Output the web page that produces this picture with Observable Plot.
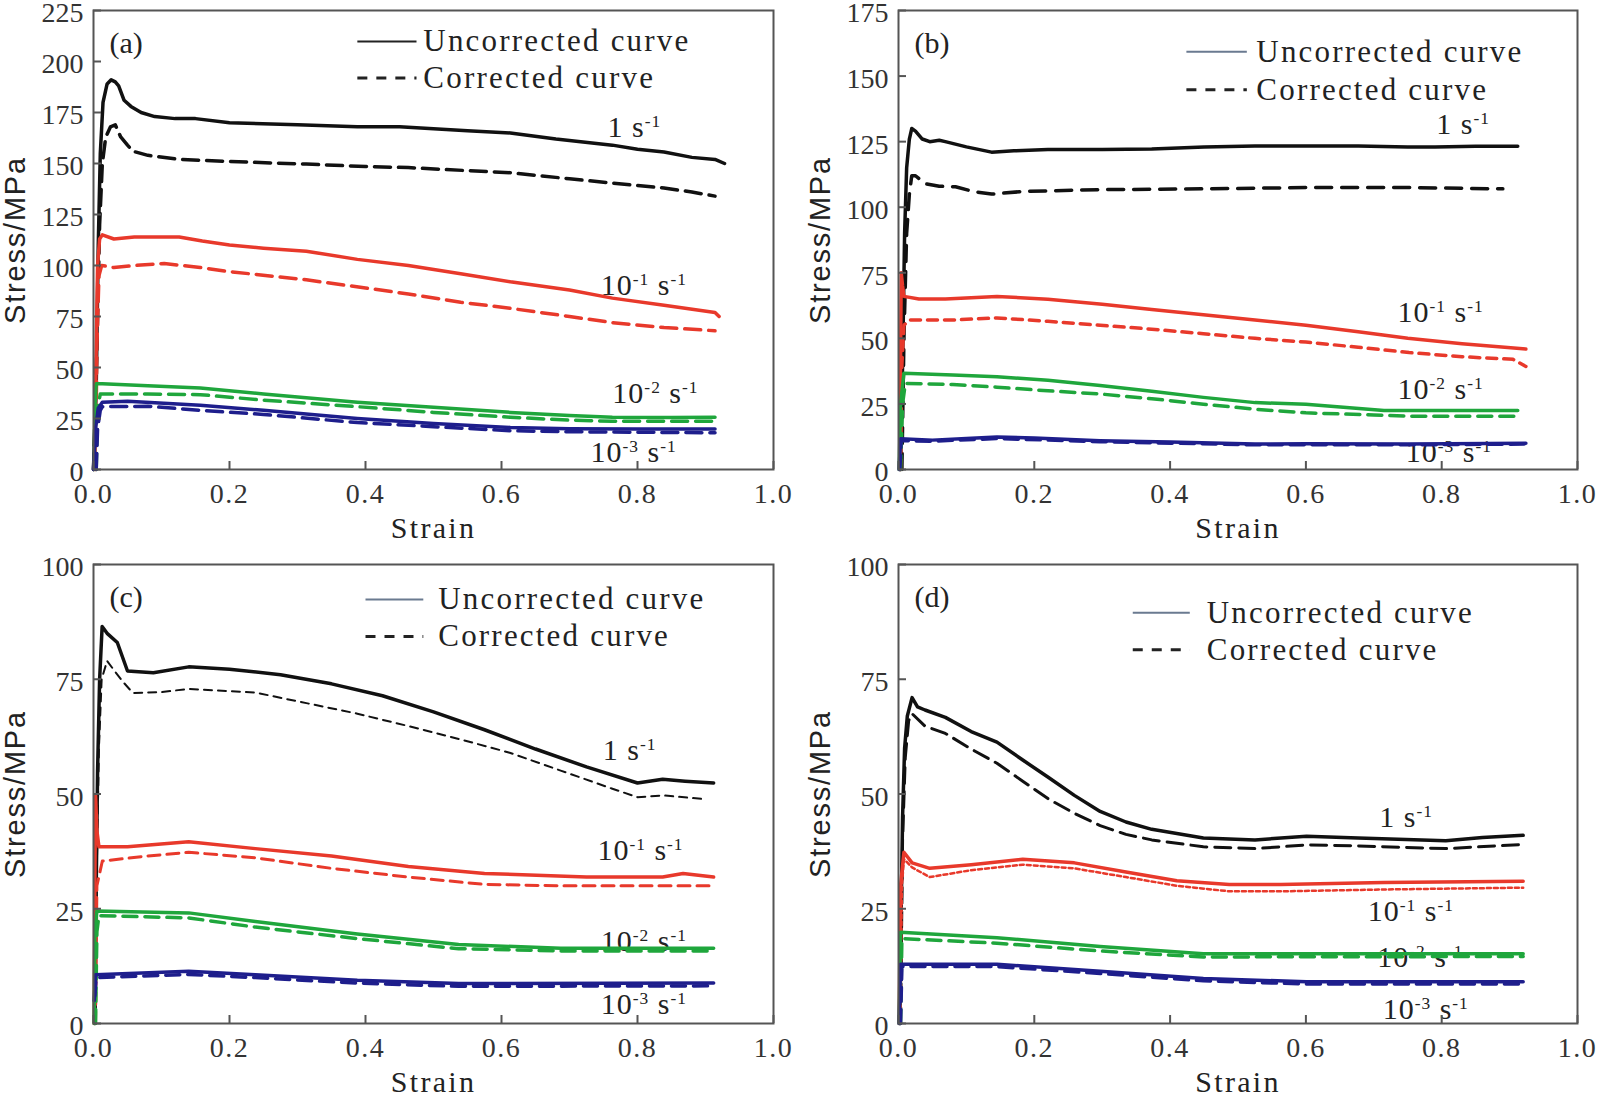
<!DOCTYPE html>
<html><head><meta charset="utf-8">
<script src="https://cdn.jsdelivr.net/npm/d3@7"></script>
<script src="https://cdn.jsdelivr.net/npm/@observablehq/plot@0.6"></script>
<style>
body{margin:0;background:#fff;}
#root{position:relative;width:1599px;height:1094px;overflow:hidden;background:#fff;}
.panel{position:absolute;}
</style></head>
<body><div id="root"></div>
<script>
// ---------- data (strain, stress MPa) ----------
const xTicks = [0, 0.2, 0.4, 0.6, 0.8, 1.0];
const yTicksA = [0, 25, 50, 75, 100, 125, 150, 175, 200, 225];
const yTicksB = [0, 25, 50, 75, 100, 125, 150, 175];
const yTicksC = [0, 25, 50, 75, 100];
const yTicksD = [0, 25, 50, 75, 100];
const rateLabels = ["1 s^-1", "10^-1 s^-1", "10^-2 s^-1", "10^-3 s^-1"];
const legendLabels = ["Uncorrected curve", "Corrected curve"];
const panelTags = ["(a)", "(b)", "(c)", "(d)"];

// panel (a)
const a1u = [[0,0],[0.004,40],[0.007,110],[0.01,155],[0.014,180],[0.02,189],[0.026,191],[0.032,190],[0.037,188],[0.045,181],[0.055,178],[0.07,175],[0.09,173],[0.12,172],[0.15,172],[0.2,170],[0.3,169],[0.388,168],[0.45,168],[0.5,167],[0.55,166],[0.613,165],[0.68,162],[0.763,159],[0.8,157],[0.839,155.6],[0.88,153],[0.914,152],[0.928,150]];
const a1c = [[0,0],[0.005,60],[0.009,120],[0.013,150],[0.018,163],[0.025,168],[0.032,169],[0.04,163],[0.05,159],[0.058,156],[0.08,154],[0.126,152],[0.2,151],[0.313,149.7],[0.4,148.5],[0.463,148],[0.55,146.5],[0.613,145.5],[0.7,142.5],[0.763,140.4],[0.839,138],[0.88,136],[0.914,134]];
const a2u = [[0.002,0],[0.004,60],[0.006,100],[0.009,113],[0.013,115],[0.03,113],[0.06,114],[0.1,114],[0.126,114],[0.16,112],[0.2,110],[0.25,108.5],[0.313,107],[0.388,103],[0.463,100],[0.54,96],[0.613,92],[0.7,88],[0.763,84],[0.839,80.5],[0.914,77],[0.92,75]];
const a2c = [[0.003,0],[0.005,60],[0.008,95],[0.012,100],[0.03,99],[0.06,100],[0.104,101],[0.157,99],[0.2,97],[0.313,93],[0.4,89],[0.463,86],[0.54,82],[0.613,79],[0.7,75],[0.763,72],[0.839,69.6],[0.914,68]];
const a3u = [[0.001,0],[0.002,30],[0.004,42],[0.013,42],[0.08,41],[0.157,40],[0.25,37],[0.388,33],[0.5,30.5],[0.613,28],[0.7,26.5],[0.763,25.6],[0.85,25.5],[0.914,25.6]];
const a3c = [[0.004,0],[0.006,30],[0.01,37],[0.08,37],[0.157,36.7],[0.25,34],[0.388,30.8],[0.5,28],[0.613,25.6],[0.7,24.2],[0.763,23.6],[0.914,23.6]];
const a4u = [[0,0],[0.003,20],[0.007,30],[0.013,33],[0.05,33.5],[0.157,31.5],[0.25,29],[0.388,25],[0.5,22.5],[0.613,20.6],[0.7,20],[0.8,19.8],[0.914,19.8]];
const a4c = [[0.004,0],[0.006,20],[0.01,29],[0.013,30.8],[0.08,31],[0.157,29],[0.25,27],[0.388,23],[0.5,21],[0.613,19],[0.7,18.5],[0.914,18]];

// panel (b)
const b1u = [[0.003,0],[0.006,40],[0.009,90],[0.012,115],[0.016,126],[0.0195,130],[0.025,129],[0.035,126],[0.046,125],[0.06,125.5],[0.069,125],[0.1,123],[0.137,121],[0.17,121.5],[0.22,122],[0.3,122],[0.373,122.2],[0.45,123],[0.525,123.3],[0.6,123.3],[0.677,123.3],[0.75,123],[0.79,123],[0.85,123.2],[0.912,123.2]];
const b1c = [[0.005,0],[0.008,50],[0.012,90],[0.016,105],[0.0195,112],[0.025,112],[0.039,109],[0.06,108],[0.084,107.8],[0.11,106],[0.137,105],[0.183,106],[0.297,106.7],[0.449,107],[0.6,107.5],[0.752,107.5],[0.89,107]];
const b2u = [[0.002,0],[0.003,40],[0.004,75],[0.006,70],[0.008,66],[0.03,65],[0.069,65],[0.145,66],[0.22,64.9],[0.3,63],[0.373,61],[0.449,59],[0.525,57],[0.6,55],[0.677,52.5],[0.75,50],[0.83,47.9],[0.924,45.9]];
const b2c = [[0.003,0],[0.005,40],[0.008,55],[0.016,57],[0.08,57],[0.145,57.8],[0.22,56.5],[0.297,55],[0.373,53.5],[0.449,51.8],[0.525,50],[0.6,48.6],[0.677,46.6],[0.752,44.6],[0.83,43],[0.905,42],[0.924,39.3]];
const b3u = [[0.001,0],[0.003,25],[0.008,36.7],[0.08,36],[0.145,35.4],[0.22,34],[0.297,32],[0.373,29.8],[0.449,27.5],[0.525,25.5],[0.6,24.9],[0.715,22.5],[0.8,22.5],[0.912,22.5]];
const b3c = [[0.003,0],[0.006,25],[0.01,32.8],[0.08,32.4],[0.145,31.4],[0.22,30],[0.297,28.8],[0.373,27],[0.449,24.9],[0.525,23],[0.6,21.6],[0.7,20.8],[0.752,20.3],[0.912,20.3]];
const b4u = [[0.001,0],[0.003,11.7],[0.05,11.2],[0.1,11.8],[0.145,12.4],[0.2,12],[0.297,11],[0.4,10.5],[0.525,9.7],[0.6,9.8],[0.75,9.7],[0.924,10]];
const b4c = [[0.002,0],[0.004,11],[0.05,10.8],[0.145,11.8],[0.297,10.6],[0.525,9.4],[0.75,9.4],[0.924,9.7]];

// panel (c)
const c1u = [[0.002,0],[0.004,30],[0.006,55],[0.009,75],[0.0127,86.5],[0.02,85],[0.035,83],[0.05,76.8],[0.088,76.4],[0.14,77.7],[0.2,77.2],[0.275,76],[0.35,74],[0.425,71.4],[0.5,67.9],[0.575,64],[0.65,59.8],[0.725,55.9],[0.8,52.4],[0.837,53.2],[0.87,52.8],[0.912,52.4]];
const c1c = [[0.003,0],[0.005,35],[0.008,60],[0.012,75],[0.02,79],[0.03,77],[0.043,74.5],[0.058,72],[0.1,72.2],[0.14,72.9],[0.238,72.1],[0.313,69.8],[0.388,67.5],[0.463,64.8],[0.537,62],[0.612,59],[0.687,55.1],[0.762,51.2],[0.8,49.3],[0.837,49.7],[0.897,48.9]];
const c2u = [[0.001,0],[0.002,30],[0.003,49.7],[0.005,42],[0.008,38.5],[0.05,38.5],[0.14,39.6],[0.238,38.1],[0.35,36.5],[0.463,34.2],[0.575,32.7],[0.725,31.9],[0.837,31.9],[0.867,32.7],[0.912,31.9]];
const c2c = [[0.003,0],[0.005,30],[0.013,35.4],[0.08,36.5],[0.14,37.3],[0.238,36.1],[0.35,33.8],[0.463,31.9],[0.575,30.3],[0.687,30],[0.912,30]];
const c3u = [[0.001,0],[0.002,20],[0.005,24.5],[0.14,24.1],[0.238,22.2],[0.388,19.5],[0.537,17.2],[0.687,16.4],[0.912,16.4]];
const c3c = [[0.003,0],[0.005,20],[0.008,23.5],[0.14,23],[0.238,21],[0.388,18.5],[0.537,16.3],[0.687,15.8],[0.912,15.8]];
const c4u = [[0.001,5],[0.003,10.6],[0.14,11.4],[0.238,10.6],[0.388,9.4],[0.537,8.7],[0.912,8.8]];
const c4c = [[0.002,6],[0.004,10],[0.14,10.7],[0.238,10],[0.388,8.8],[0.537,8.1],[0.912,8.2]];

// panel (d)
const d1u = [[0.002,0],[0.004,25],[0.006,45],[0.009,60],[0.013,67],[0.02,71],[0.028,69],[0.039,68.3],[0.069,66.7],[0.107,63.6],[0.145,61.3],[0.183,57.4],[0.221,53.6],[0.259,49.7],[0.297,46.2],[0.335,43.9],[0.373,42.3],[0.449,40.4],[0.525,40],[0.601,40.8],[0.677,40.4],[0.806,39.8],[0.86,40.5],[0.92,41]];
const d1c = [[0.003,0],[0.006,40],[0.01,58],[0.015,66],[0.02,67.5],[0.039,64.8],[0.069,63.2],[0.107,59.8],[0.145,56.7],[0.183,52.8],[0.221,48.9],[0.259,45.8],[0.297,43.1],[0.335,41.2],[0.373,40],[0.449,38.5],[0.525,38.1],[0.601,38.9],[0.677,38.7],[0.806,38.1],[0.92,39]];
const d2u = [[0.001,0],[0.003,30],[0.008,37.3],[0.02,35],[0.046,33.8],[0.107,34.6],[0.183,35.8],[0.259,35],[0.335,33],[0.41,31.1],[0.487,30.3],[0.563,30.3],[0.715,30.7],[0.92,31]];
const d2c = [[0.003,0],[0.005,30],[0.008,35.8],[0.02,34],[0.046,31.9],[0.107,33.4],[0.183,34.6],[0.259,33.8],[0.335,31.9],[0.41,30],[0.487,28.8],[0.563,28.8],[0.715,29.2],[0.92,29.6]];
const d3u = [[0.001,0],[0.003,19.9],[0.145,18.7],[0.297,16.8],[0.449,15.2],[0.92,15.2]];
const d3c = [[0.003,0],[0.005,18.5],[0.145,17.5],[0.297,15.8],[0.449,14.5],[0.92,14.6]];
const d4u = [[0.001,0],[0.003,12.9],[0.145,12.9],[0.297,11.4],[0.449,9.8],[0.601,9.1],[0.92,9.1]];
const d4c = [[0.003,0],[0.005,12.4],[0.145,12.4],[0.297,10.9],[0.449,9.3],[0.601,8.6],[0.92,8.6]];

// ---------- styles / layout ----------
const rateColors = ["#111111", "#e8392b", "#1fa63c", "#1e1e8c"];
const SERIF = "'Liberation Serif','Times New Roman',serif";
const SANS = "'Liberation Sans',Arial,sans-serif";

const panels = [
  {tag: panelTags[0], left: 0, top: 0, width: 795, yMax: 225, yTicks: yTicksA,
   curves: [[a1u,a1c],[a2u,a2c],[a3u,a3c],[a4u,a4c]],
   dashes: ["16,8","16,8","16,8","16,8"], dashW: [3.5,3.5,3.5,3.5],
   labelPos: [[0.756,167.6],[0.746,90.2],[0.763,37.3],[0.731,8.3]],
   legend: {x1: 0.388, x2: 0.475, xt: 0.485, y: [209.8, 191.9], solid: "#222"}},
  {tag: panelTags[1], left: 805, top: 0, width: 794, yMax: 175, yTicks: yTicksB,
   curves: [[b1u,b1c],[b2u,b2c],[b3u,b3c],[b4u,b4c]],
   dashes: ["16,10","10,7","14,8","14,8"], dashW: [3.5,3.5,3.5,3.5],
   labelPos: [[0.792,131.4],[0.735,60],[0.735,30.6],[0.747,6.5]],
   legend: {x1: 0.424, x2: 0.513, xt: 0.527, y: [159.3, 144.8], solid: "#6a7a90"}},
  {tag: panelTags[2], left: 0, top: 554, width: 795, yMax: 100, yTicks: yTicksC,
   curves: [[c1u,c1c],[c2u,c2c],[c3u,c3c],[c4u,c4c]],
   dashes: ["8,6","12,7","14,8","14,8"], dashW: [2,3,3.5,3.5],
   labelPos: [[0.749,59.4],[0.741,37.8],[0.746,17.9],[0.746,4.1]],
   legend: {x1: 0.4, x2: 0.485, xt: 0.507, y: [92.4, 84.3], solid: "#6a7a90"}},
  {tag: panelTags[3], left: 805, top: 554, width: 794, yMax: 100, yTicks: yTicksD,
   curves: [[d1u,d1c],[d2u,d2c],[d3u,d3c],[d4u,d4c]],
   dashes: ["16,8","4,3","14,8","14,8"], dashW: [3,2.5,3.5,3.5],
   labelPos: [[0.708,45],[0.691,24.5],[0.705,14.4],[0.713,3.1]],
   legend: {x1: 0.345, x2: 0.429, xt: 0.454, y: [89.5, 81.4], solid: "#6a7a90"}}
];

function supify(svg) {
  svg.querySelectorAll("text").forEach(t => {
    const s = t.textContent;
    if (!s.includes("^")) return;
    t.textContent = "";
    s.split(/(\^\S+)/).forEach(p => {
      if (!p) return;
      const ts = document.createElementNS("http://www.w3.org/2000/svg", "tspan");
      if (p[0] === "^") {
        ts.textContent = p.slice(1);
        ts.setAttribute("baseline-shift", "super");
        ts.setAttribute("font-size", "58%");
      } else ts.textContent = p;
      t.appendChild(ts);
    });
  });
}

function makePanel(cfg) {
  const H = 540, ml = 93, mr = 22, mt = 10, mb = 71;
  const iw = cfg.width - ml - mr, ih = H - mt - mb;
  const lineMarks = [];
  cfg.curves.forEach(([u, c], i) => {
    lineMarks.push(Plot.line(c, {x: d => d[0], y: d => d[1], stroke: rateColors[i],
      strokeWidth: cfg.dashW[i], strokeDasharray: cfg.dashes[i], strokeLinejoin: "round"}));
    lineMarks.push(Plot.line(u, {x: d => d[0], y: d => d[1], stroke: rateColors[i],
      strokeWidth: 3.5, strokeLinejoin: "round"}));
  });
  const lg = cfg.legend;
  const plot = Plot.plot({
    width: cfg.width, height: H,
    marginLeft: ml, marginRight: mr, marginTop: mt, marginBottom: mb,
    style: {fontFamily: SERIF, color: "#333", background: "transparent", overflow: "visible"},
    x: {domain: [0, 1]},
    y: {domain: [0, cfg.yMax]},
    marks: [
      Plot.text(rateLabels, {x: (d, i) => cfg.labelPos[i][0], y: (d, i) => cfg.labelPos[i][1],
        text: d => d, textAnchor: "start", fontSize: 30, fill: "#222", ariaLabel: () => "rate-label"}),
      ...lineMarks,
      Plot.frame({stroke: "#555", strokeWidth: 2}),
      Plot.tickX(xTicks, {x: d => d, insetTop: ih - 8, stroke: "#555", strokeWidth: 2}),
      Plot.tickY(cfg.yTicks, {y: d => d, insetRight: iw - 8, stroke: "#555", strokeWidth: 2}),
      Plot.axisX({ticks: xTicks, tickSize: 0, tickPadding: 14, tickFormat: d3.format(".1f"),
        fontSize: 28, label: null, fill: "#333"}),
      Plot.axisY({ticks: cfg.yTicks, tickSize: 0, tickPadding: 10, tickFormat: d3.format("d"),
        fontSize: 28, label: null, fill: "#333", dy: 3}),
      Plot.text(["Strain"], {frameAnchor: "bottom", lineAnchor: "middle", textAnchor: "middle",
        dy: 59, text: d => d, fontSize: 30, fill: "#222", ariaLabel: () => "x-title"}),
      Plot.text(["Stress/MPa"], {frameAnchor: "left", lineAnchor: "middle", textAnchor: "middle",
        dx: -78, rotate: -90, text: d => d, fontSize: 29, fontFamily: SANS, fill: "#222",
        ariaLabel: () => "y-title"}),
      Plot.text([cfg.tag], {frameAnchor: "top-left", lineAnchor: "middle", dx: 16, dy: 33,
        text: d => d, textAnchor: "start", fontSize: 30, fill: "#222"}),
      Plot.link([0], {x1: lg.x1, x2: lg.x2, y1: lg.y[0], y2: lg.y[0], stroke: lg.solid, strokeWidth: 2}),
      Plot.link([0], {x1: lg.x1, x2: lg.x2, y1: lg.y[1], y2: lg.y[1], stroke: "#222",
        strokeWidth: 3, strokeDasharray: "10,9"}),
      Plot.text(legendLabels, {x: lg.xt, y: (d, i) => lg.y[i], text: d => d, textAnchor: "start",
        fontSize: 31, fill: "#222", ariaLabel: () => "legend-text"})
    ]
  });
  supify(plot);
  const ls = (sel, v) => plot.querySelectorAll(sel).forEach(g => g.style.letterSpacing = v);
  ls('[aria-label="legend-text"]', "2.2px");
  ls('[aria-label="rate-label"]', "1px");
  ls('[aria-label="x-title"]', "2.3px");
  ls('[aria-label="y-title"]', "1.8px");
  ls('g[aria-label="x-axis tick label"] text', "1.5px");
  const div = document.createElement("div");
  div.className = "panel";
  div.style.left = cfg.left + "px";
  div.style.top = cfg.top + "px";
  div.appendChild(plot);
  return div;
}

const root = document.getElementById("root");
panels.forEach(p => root.appendChild(makePanel(p)));
</script>
</body></html>
